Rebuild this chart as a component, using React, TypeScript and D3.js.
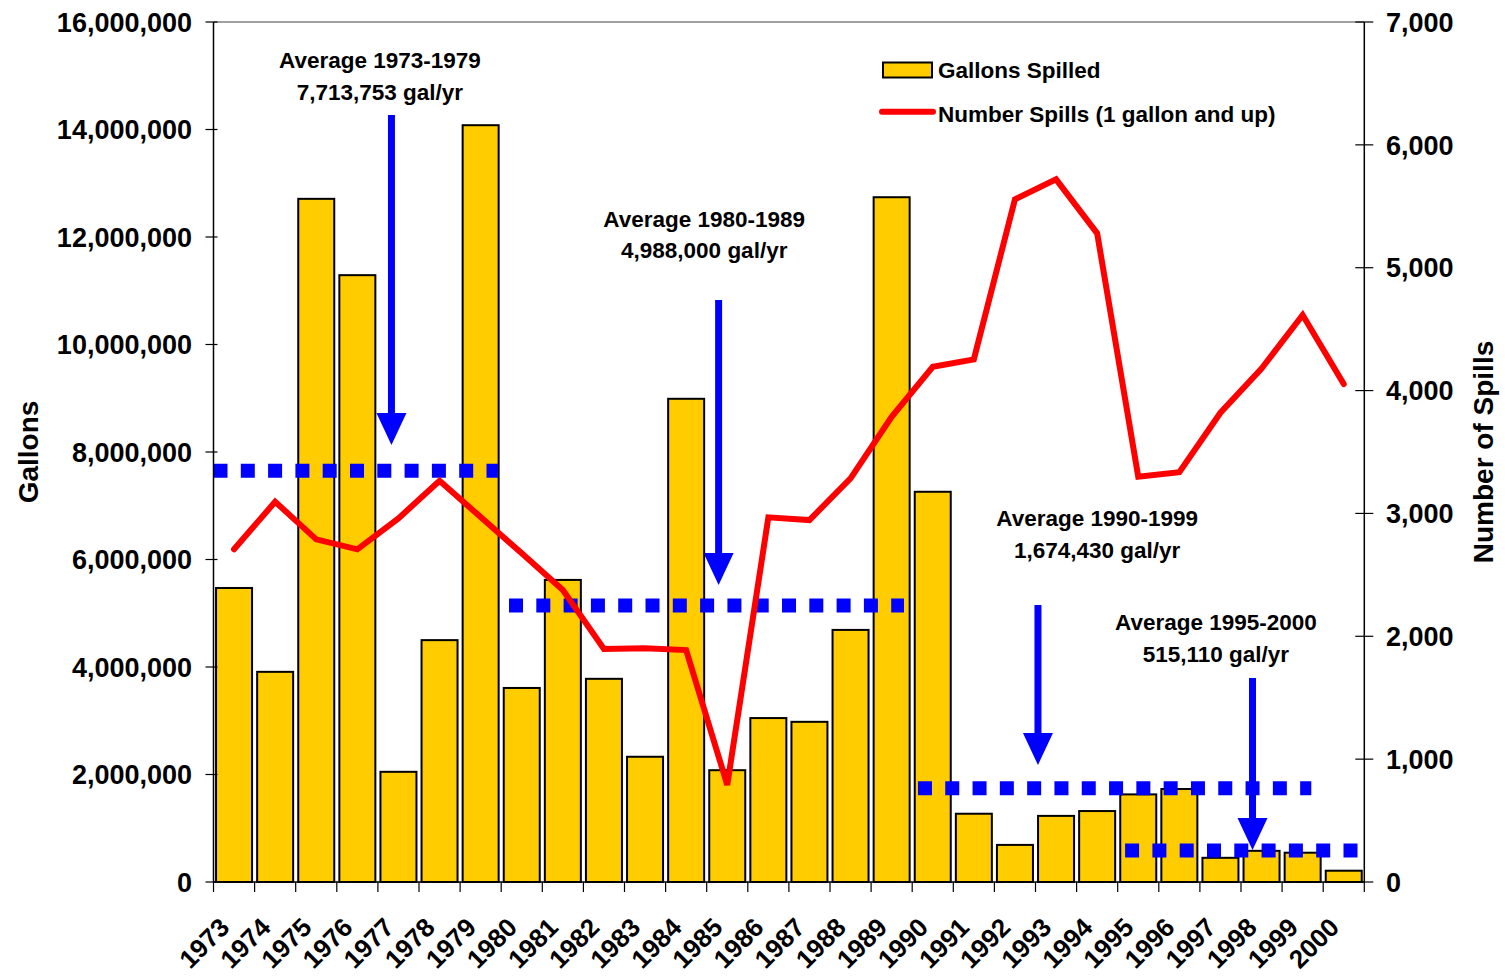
import React from "react";
import * as d3 from "d3";

// categories
const years = [
  "1973", "1974", "1975", "1976", "1977", "1978", "1979", "1980", "1981", "1982",
  "1983", "1984", "1985", "1986", "1987", "1988", "1989", "1990", "1991", "1992",
  "1993", "1994", "1995", "1996", "1997", "1998", "1999", "2000",
];

// gallons spilled per year (left axis)
const gallons = [
  5470000, 3910000, 12710000, 11290000, 2050000, 4500000, 14080000, 3610000, 5620000, 3780000,
  2330000, 8990000, 2080000, 3050000, 2980000, 4690000, 12740000, 7260000, 1270000, 690000,
  1230000, 1320000, 1630000, 1730000, 450000, 580000, 545000, 210000,
];

// number of spills per year (right axis)
const spills = [
  2708, 3095, 2789, 2708, 2960, 3266, 2970, 2675, 2377, 1897,
  1902, 1888, 790, 2968, 2946, 3286, 3787, 4194, 4254, 5557,
  5719, 5280, 3299, 3335, 3820, 4180, 4615, 4053,
];

const leftTicks = [0, 2000000, 4000000, 6000000, 8000000, 10000000, 12000000, 14000000, 16000000];
const rightTicks = [0, 1000, 2000, 3000, 4000, 5000, 6000, 7000];

// period averages: label text, dotted level (as drawn), span in year positions
const avgTitles = ["Average 1973-1979", "Average 1980-1989", "Average 1990-1999", "Average 1995-2000"];
const avgTexts = ["7,713,753 gal/yr", "4,988,000 gal/yr", "1,674,430 gal/yr", "515,110 gal/yr"];
const avgLevels = [7652000, 5144000, 1743000, 586000];
const avgFrom = [1973.0, 1980.19, 1990.14, 1995.18];
const avgTo = [1979.92, 1989.8, 1999.71, 2000.85];

// arrows: x in year position, shaft top and tip in gallons
const arrowX = [1977.33, 1985.29, 1993.06, 1998.28];
const arrowTop = [14270000, 10830000, 5153000, 3795000];
const arrowTip = [8130000, 5526000, 2177000, 595000];

// label anchor: x in year position, baseline of first line in gallons
const labelX = [1977.05, 1984.94, 1994.5, 1997.39];
const labelY = [15140000, 12190000, 6622000, 4688000];

const W = 1505;
const H = 978;
const margin = { left: 213.5, right: W - 1364.3, top: 22, bottom: H - 882 };
const font = "'Liberation Sans', Arial, sans-serif";
const gold = "#FFCC00";
const blue = "#0000FF";
const red = "#FF0000";

export default function App() {
  const x0 = margin.left;
  const x1 = W - margin.right;
  const y0 = H - margin.bottom;
  const y1 = margin.top;

  const x = d3.scaleBand().domain(years).range([x0, x1]).paddingInner(0.124).paddingOuter(0.062);
  const xPos = d3.scaleLinear().domain([1973, 2001]).range([x0, x1]);
  const yL = d3.scaleLinear().domain([0, 16000000]).range([y0, y1]);
  const yR = d3.scaleLinear().domain([0, 7000]).range([y0, y1]);
  const fmt = d3.format(",");

  const line = d3
    .line<number>()
    .x((_, i) => (x(years[i]) as number) + x.bandwidth() / 2)
    .y((d) => yR(d));

  const step = x.step();

  return (
    <svg
      width={W}
      height={H}
      style={{ position: "absolute", left: 0, top: 0, background: "#fff" }}
      fontFamily={font}
      fontWeight="bold"
    >
      {/* top frame line */}
      <line x1={x0} x2={x1} y1={y1} y2={y1} stroke="#808080" strokeWidth={1.5} />

      {/* bars */}
      {gallons.map((v, i) => (
        <rect
          key={years[i]}
          x={x(years[i])}
          y={yL(v)}
          width={x.bandwidth()}
          height={y0 - yL(v)}
          fill={gold}
          stroke="#000"
          strokeWidth={2}
        />
      ))}

      {/* average dotted lines */}
      {avgLevels.map((v, i) => (
        <line
          key={"avg" + i}
          x1={xPos(avgFrom[i])}
          x2={xPos(avgTo[i])}
          y1={yL(v)}
          y2={yL(v)}
          stroke={blue}
          strokeWidth={14}
          strokeDasharray="14 13.3"
        />
      ))}

      {/* spills line */}
      <path
        d={line(spills) || ""}
        fill="none"
        stroke={red}
        strokeWidth={6}
        strokeLinecap="round"
        strokeLinejoin="miter"
      />

      {/* arrows */}
      {arrowX.map((ax, i) => {
        const cx = xPos(ax);
        const top = yL(arrowTop[i]);
        const tip = yL(arrowTip[i]);
        return (
          <g key={"arr" + i}>
            <line x1={cx} x2={cx} y1={top} y2={tip - 30} stroke={blue} strokeWidth={7} />
            <path d={`M${cx - 15},${tip - 32}L${cx + 15},${tip - 32}L${cx},${tip}Z`} fill={blue} />
          </g>
        );
      })}

      {/* annotation labels */}
      {labelX.map((lx, i) => (
        <text key={"lab" + i} x={xPos(lx)} y={yL(labelY[i])} fontSize={22.5} textAnchor="middle" fill="#000">
          <tspan x={xPos(lx)}>{avgTitles[i]}</tspan>
          <tspan x={xPos(lx)} dy={31.7}>
            {avgTexts[i]}
          </tspan>
        </text>
      ))}

      {/* left axis */}
      <line x1={x0} x2={x0} y1={y1} y2={y0} stroke="#000" strokeWidth={1.5} />
      {leftTicks.map((t) => (
        <g key={"l" + t}>
          <line x1={x0 - 8} x2={x0 + 4} y1={yL(t)} y2={yL(t)} stroke="#000" strokeWidth={1.2} />
          <text x={192} y={yL(t)} dy="0.36em" fontSize={27} textAnchor="end">
            {fmt(t)}
          </text>
        </g>
      ))}

      {/* right axis */}
      <line x1={x1} x2={x1} y1={y1} y2={y0} stroke="#000" strokeWidth={1.5} />
      {rightTicks.map((t) => (
        <g key={"r" + t}>
          <line x1={x1 - 9} x2={x1 + 9} y1={yR(t)} y2={yR(t)} stroke="#000" strokeWidth={1.2} />
          <text x={1386} y={yR(t)} dy="0.36em" fontSize={27} textAnchor="start">
            {fmt(t)}
          </text>
        </g>
      ))}

      {/* bottom axis */}
      <line x1={x0} x2={x1} y1={y0} y2={y0} stroke="#000" strokeWidth={1.5} />
      {years.map((yr, i) => (
        <line
          key={"bt" + yr}
          x1={x0 + i * step}
          x2={x0 + i * step}
          y1={y0}
          y2={y0 + 10}
          stroke="#000"
          strokeWidth={1.2}
        />
      ))}
      <line x1={x1} x2={x1} y1={y0} y2={y0 + 10} stroke="#000" strokeWidth={1.2} />
      {years.map((yr) => {
        const cx = (x(yr) as number) + x.bandwidth() / 2 - 3;
        const cy = 929;
        return (
          <text
            key={"xl" + yr}
            x={cx}
            y={cy}
            fontSize={26}
            textAnchor="end"
            transform={`rotate(-45 ${cx} ${cy})`}
          >
            {yr}
          </text>
        );
      })}

      {/* axis titles */}
      <text x={28} y={452} fontSize={28} textAnchor="middle" dominantBaseline="central" transform="rotate(-90 28 452)">
        Gallons
      </text>
      <text
        x={1483}
        y={452}
        fontSize={28}
        textAnchor="middle"
        dominantBaseline="central"
        transform="rotate(-90 1483 452)"
      >
        Number of Spills
      </text>

      {/* legend */}
      <rect x={883} y={62.5} width={49} height={15} fill={gold} stroke="#000" strokeWidth={2} />
      <text x={938} y={77.5} fontSize={22.5}>
        Gallons Spilled
      </text>
      <line x1={882} x2={933} y1={111.7} y2={111.7} stroke={red} strokeWidth={6} strokeLinecap="round" />
      <text x={938} y={121.5} fontSize={22.5}>
        Number Spills (1 gallon and up)
      </text>
    </svg>
  );
}
